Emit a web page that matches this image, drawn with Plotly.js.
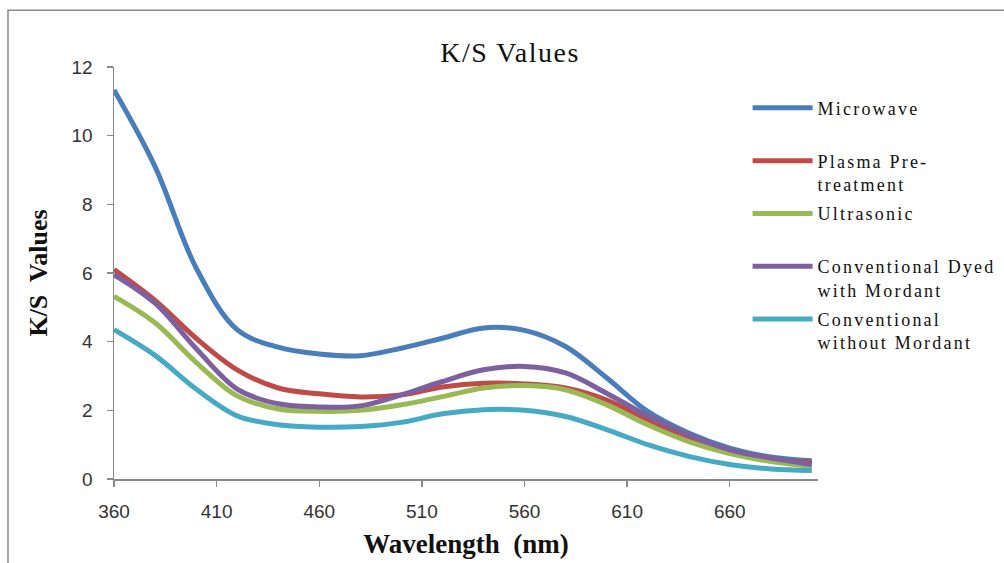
<!DOCTYPE html>
<html>
<head>
<meta charset="utf-8">
<script src="https://cdn.plot.ly/plotly-3.0.1.min.js"></script>
<style>
html,body{margin:0;padding:0;background:#fff;}
#chart{width:1004px;height:563px;}
.legendtext{letter-spacing:2.2px;}
.gtitle{letter-spacing:1.5px;}
</style>
</head>
<body>
<div id="chart"></div>
<script>
var wavelength = [360, 380, 400, 420, 440, 460, 480, 500, 520, 540, 560, 580, 600, 620, 640, 660, 680, 700];
var microwave = [11.33, 9.1, 6.15, 4.35, 3.84, 3.64, 3.59, 3.81, 4.1, 4.4, 4.33, 3.86, 2.95, 1.97, 1.34, 0.9, 0.64, 0.53];
var plasma = [6.1, 5.2, 4.1, 3.18, 2.65, 2.48, 2.39, 2.45, 2.68, 2.79, 2.77, 2.65, 2.3, 1.73, 1.19, 0.8, 0.58, 0.48];
var ultrasonic = [5.32, 4.55, 3.4, 2.42, 2.04, 1.97, 2.0, 2.16, 2.4, 2.65, 2.72, 2.6, 2.16, 1.58, 1.09, 0.74, 0.51, 0.37];
var convWith = [5.95, 5.12, 3.8, 2.62, 2.19, 2.1, 2.13, 2.45, 2.84, 3.18, 3.28, 3.09, 2.5, 1.84, 1.29, 0.85, 0.61, 0.42];
var convWithout = [4.35, 3.6, 2.62, 1.84, 1.58, 1.51, 1.53, 1.65, 1.9, 2.02, 2.0, 1.82, 1.44, 1.0, 0.66, 0.42, 0.29, 0.25];
var seriesNames = ["Microwave<br>\u00a0", "Plasma Pre-<br>treatment", "Ultrasonic<br>\u00a0", "Conventional Dyed<br>with Mordant", "Conventional<br>without Mordant"];
var xTicks = [360, 410, 460, 510, 560, 610, 660];
var yTicks = [0, 2, 4, 6, 8, 10, 12];

var seriesData = [microwave, plasma, ultrasonic, convWith, convWithout];
var colors = ["#4A7EBB", "#BE4B48", "#98B954", "#7D60A0", "#46AAC5"];

var traces = seriesData.map(function (ys, i) {
  return {
    x: wavelength, y: ys, type: "scatter", mode: "lines",
    name: seriesNames[i], legendgroup: "g" + i,
    line: {color: colors[i], width: 5, shape: "spline", smoothing: 1}
  };
});

var serif = "Liberation Serif, Times New Roman, serif";
var sans = "Liberation Sans, Arial, sans-serif";

var layout = {
  width: 1004, height: 563,
  paper_bgcolor: "#fff", plot_bgcolor: "#fff",
  margin: {l: 114, r: 186, t: 67, b: 84, autoexpand: false},
  title: {text: "K/S Values", font: {family: serif, size: 28, color: "#111"},
          x: 0.508, xref: "container", y: 0.908, yref: "container", xanchor: "center", yanchor: "middle"},
  xaxis: {
    range: [360, 703], tickvals: xTicks, ticktext: xTicks.map(String),
    showgrid: false, zeroline: false, showline: true, linecolor: "#8a8a8a", linewidth: 1.5,
    ticks: "outside", ticklen: 6, tickcolor: "#8a8a8a", tickwidth: 1.5, ticklabelstandoff: 9,
    tickfont: {family: sans, size: 19, color: "#333"},
    title: {text: "Wavelength  (nm)", standoff: 13, font: {family: serif, size: 27, color: "#111", weight: "bold"}}
  },
  yaxis: {
    range: [0, 12], tickvals: yTicks, ticktext: yTicks.map(String),
    showgrid: false, zeroline: false, showline: true, linecolor: "#8a8a8a", linewidth: 1.5,
    ticks: "outside", ticklen: 6, tickcolor: "#8a8a8a", tickwidth: 1.5, ticklabelstandoff: 10,
    tickfont: {family: sans, size: 19, color: "#333"},
    title: {text: "K/S  Values", standoff: 16, font: {family: serif, size: 26, color: "#111", weight: "bold"}}
  },
  legend: {
    x: 0.9, y: 0.945, xanchor: "left", yanchor: "top", xref: "paper", yref: "paper",
    valign: "top", tracegroupgap: 3, itemwidth: 60,
    font: {family: serif, size: 18, color: "#111"},
    bgcolor: "rgba(0,0,0,0)"
  },
  shapes: [{type: "rect", xref: "paper", yref: "paper", x0: -0.1506, x1: 1.4, y0: -0.3, y1: 1.138,
            line: {color: "#8a8a8a", width: 1.5}, fillcolor: "rgba(0,0,0,0)", layer: "below"}],
  showlegend: true
};

Plotly.newPlot("chart", traces, layout, {displayModeBar: false, staticPlot: true});
</script>
</body>
</html>
